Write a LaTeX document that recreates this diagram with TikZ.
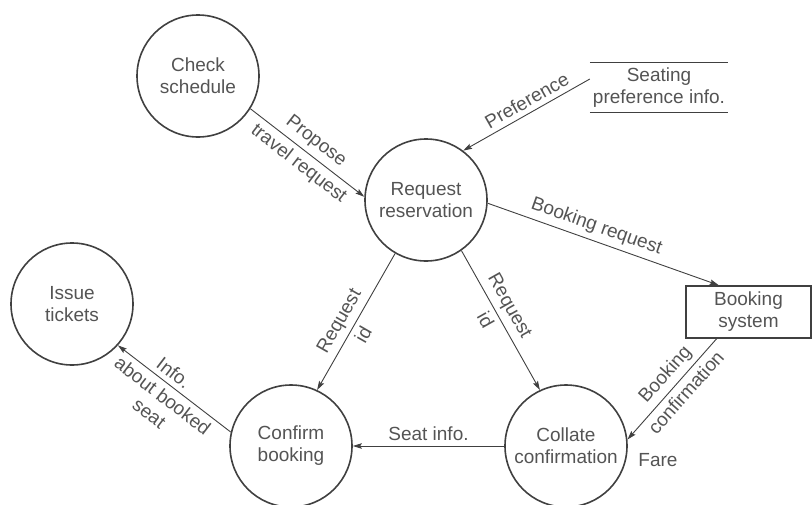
\documentclass[tikz,border=0pt]{standalone}
\usepackage{fontspec}
\setmainfont{Liberation Sans}
\usepackage{tikz}
\usetikzlibrary{automata, arrows.meta}
\definecolor{ink}{gray}{0.25}
\definecolor{txt}{gray}{0.33}
\tikzset{
    ->,  % every flow is directed
    >={Stealth[length=9pt, width=5.5pt, inset=1.5pt]},
    every node/.style={text=txt, font=\fontsize{19}{22}\selectfont, align=center},
    every state/.style={draw=ink, line width=1.6pt, minimum size=122pt, inner sep=0pt}, % the processes
    every edge/.style={draw=ink, line width=0.9pt},
    sys/.style={draw=ink, line width=1.6pt, minimum width=125pt, minimum height=52pt}, % external entity
    store/.style={minimum width=138pt, minimum height=49pt, inner sep=0pt}, % data store
    lbl/.style={sloped, inner sep=5pt},
    }

\begin{document}
\begin{tikzpicture}[x=1pt, y=-1pt]
\useasboundingbox (0,0) rectangle (812,504);
\node[state] (1) at (198,76) {Check\\schedule};
\node[state] (2) at (426,200) {Request\\reservation};
\node[store] (3) at (659,87.5) {Seating\\preference info.};
\node[sys] (4) at (748.5,312) {Booking\\system};
\node[state] (5) at (291,446) {Confirm\\booking};
\node[state] (6) at (566,446) {Collate\\confirmation};
\node[state] (7) at (72,304) {Issue\\tickets};
\node (8) at (658,460) {Fare};

\draw[-, ink, line width=1.2pt] (3.north west) -- (3.north east) (3.south west) -- (3.south east);

\path (1.-32) edge node[lbl, above]{Propose} node[lbl, below]{travel request} (2.177)
(3.173) edge node[lbl, above, pos=.45]{Preference} (2.53)
(2.-3) edge node[lbl, above, pos=.45]{Booking request} (4.138)
(2.-120) edge node[lbl, above, pos=.55]{Request} node[lbl, below, pos=.55]{id} (5.65)
(2.-55) edge node[lbl, above, pos=.45]{Request} node[lbl, below, pos=.45]{id} (6.115)
(4.220) edge node[lbl, above, pos=.45]{Booking} node[lbl, below, pos=.45]{confirmation} (6.6)
(6.180) edge node[lbl, above]{Seat info.} (5.0)
(5.167) edge node[lbl, above, pos=.57]{Info.} node[lbl, below, pos=.535]{about booked\\seat} (7.-42);
\end{tikzpicture}
\end{document}
